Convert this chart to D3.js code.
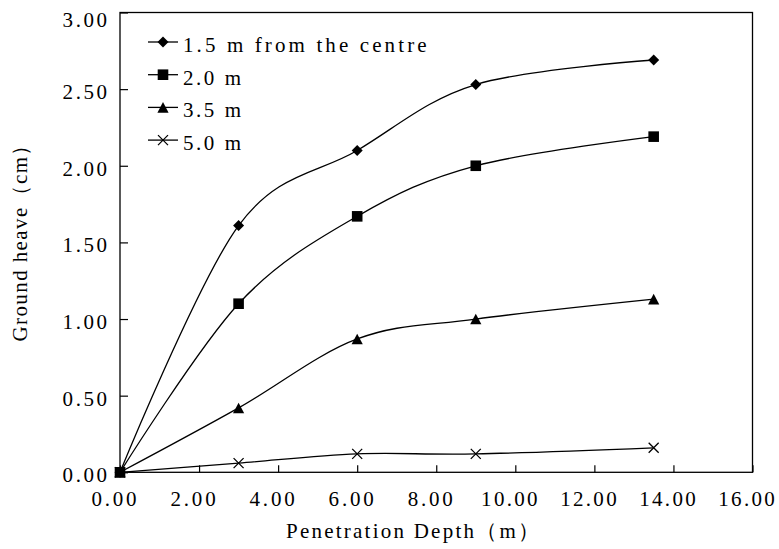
<!DOCTYPE html>
<html><head><meta charset="utf-8">
<script src="https://cdn.jsdelivr.net/npm/d3@7"></script>
<style>
body{margin:0;background:#fff}
svg text{font-family:"Liberation Serif","DejaVu Serif",serif !important;fill:#000}
</style>
</head><body>
<svg id="chart" width="779" height="549"></svg>
<script>
// ---- data ----
const depths = [0, 3, 6, 9, 13.5];
const seriesNames = ["1.5 m from the centre", "2.0 m", "3.5 m", "5.0 m"];
const heave15 = [0, 1.61, 2.10, 2.53, 2.69];
const heave20 = [0, 1.10, 1.67, 2.00, 2.19];
const heave35 = [0, 0.42, 0.87, 1.00, 1.13];
const heave50 = [0, 0.06, 0.12, 0.12, 0.16];
const markerTypes = ["diamond", "square", "triangle", "cross"];
const xTicks = [0, 2, 4, 6, 8, 10, 12, 14, 16];
const yTicks = [0, 0.5, 1, 1.5, 2, 2.5, 3];
const xTitle = "Penetration Depth（m）";
const yTitle = "Ground heave（cm）";

const seriesValues = [heave15, heave20, heave35, heave50];

// ---- layout ----
const svg = d3.select("#chart");
const L = 120, R = 752.5, T = 12.5, B = 472.3;
const FS = 21;
const x = d3.scaleLinear().domain([0, 16]).range([L, R]);
const y = d3.scaleLinear().domain([0, 3]).range([B, T]);

function units(s) { let u = 0; for (const ch of s) u += ch.charCodeAt(0) > 0x2000 ? 2 : 1; return u; }

// frame
svg.append("rect").attr("x", L).attr("y", T).attr("width", R - L).attr("height", B - T)
  .attr("fill", "none").attr("stroke", "#000").attr("stroke-width", 1.3);

const fmt = d3.format(".2f");
// x axis
const gx = svg.append("g").attr("transform", `translate(0,${B})`)
  .call(d3.axisBottom(x).tickValues(xTicks).tickSize(-7).tickFormat(fmt));
gx.attr("font-family", null).attr("font-size", null);
gx.select(".domain").remove();
gx.selectAll(".tick line").attr("stroke", "#000").attr("stroke-width", 1.2);
gx.selectAll(".tick text").attr("font-size", FS).attr("y", 26).attr("dy", "0.35em")
  .attr("dx", -6.5)
  .each(function () { const t = d3.select(this); t.attr("textLength", units(t.text()) * 11.3).attr("lengthAdjust", "spacing"); });

// y axis
const gy = svg.append("g").attr("transform", `translate(${L},0)`)
  .call(d3.axisLeft(y).tickValues(yTicks).tickSize(-8).tickPadding(13).tickFormat(fmt));
gy.attr("font-family", null).attr("font-size", null);
gy.select(".domain").remove();
gy.selectAll(".tick line").attr("stroke", "#000").attr("stroke-width", 1.2);
gy.selectAll(".tick text").attr("font-size", FS)
  .attr("dy", "0.35em")
  .attr("y", d => Math.max(2, 19 - y(d)))
  .each(function () { const t = d3.select(this); t.attr("textLength", units(t.text()) * 11.1).attr("lengthAdjust", "spacing"); });

// titles
svg.append("text").attr("x", 286).attr("y", 531).attr("dy", "0.35em")
  .attr("font-size", FS).attr("textLength", units(xTitle) * 11.5).attr("lengthAdjust", "spacing")
  .text(xTitle);
svg.append("text").attr("transform", "translate(20,238) rotate(-90)")
  .attr("text-anchor", "middle").attr("dy", "0.35em")
  .attr("font-size", FS).attr("textLength", units(yTitle) * 11.5).attr("lengthAdjust", "spacing")
  .text(yTitle);

// markers
function markerPath(type) {
  if (type === "diamond") { const h = 5.5; return `M0,${-h}L${h},0L0,${h}L${-h},0Z`; }
  if (type === "square") { const h = 5.3; return `M${-h},${-h}H${h}V${h}H${-h}Z`; }
  if (type === "triangle") { const w = 5.6, h = 5.3; return `M0,${-h}L${w},${h}L${-w},${h}Z`; }
  const c = 5; return `M${-c},${-c}L${c},${c}M${-c},${c}L${c},${-c}`;
}
function drawMarker(g, type, cx, cy) {
  const p = g.append("path").attr("d", markerPath(type)).attr("transform", `translate(${cx},${cy})`);
  if (type === "cross") p.attr("fill", "none").attr("stroke", "#000").attr("stroke-width", 1.3);
  else p.attr("fill", "#000").attr("stroke", "none");
}

const line = d3.line().x(d => x(d[0])).y(d => y(d[1])).curve(d3.curveCardinal.tension(0));
seriesValues.forEach((vals, i) => {
  const pts = depths.map((d, j) => [d, vals[j]]);
  const g = svg.append("g");
  g.append("path").attr("d", line(pts)).attr("fill", "none").attr("stroke", "#000").attr("stroke-width", 1.3);
  pts.forEach(p => drawMarker(g, markerTypes[i], x(p[0]), y(p[1])));
});

// legend
const lg = svg.append("g");
seriesNames.forEach((name, i) => {
  const ry = 42 + i * 32.7;
  lg.append("line").attr("x1", 148).attr("x2", 178).attr("y1", ry).attr("y2", ry)
    .attr("stroke", "#000").attr("stroke-width", 1.3);
  drawMarker(lg, markerTypes[i], 163, ry);
  lg.append("text").attr("x", 183).attr("y", ry + 2.5).attr("dy", "0.35em").attr("font-size", FS)
    .attr("textLength", units(name) * 11.6).attr("lengthAdjust", "spacing").text(name);
});
</script>
</body></html>
